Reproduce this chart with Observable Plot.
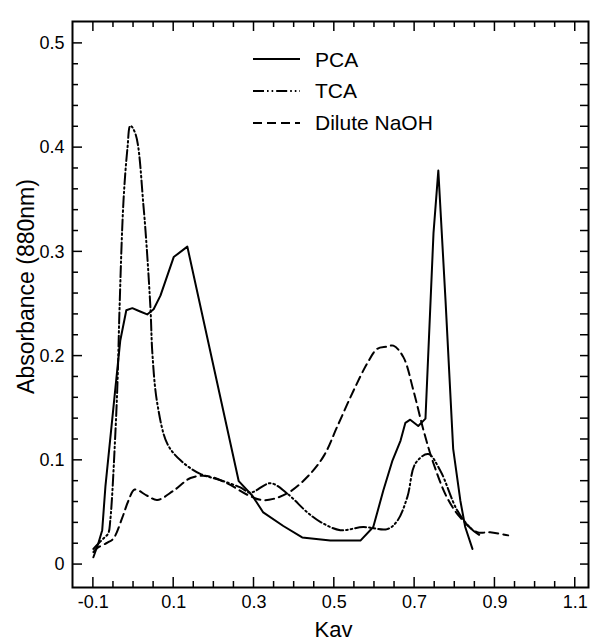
<!DOCTYPE html>
<html><head><meta charset="utf-8">
<script src="https://cdn.jsdelivr.net/npm/d3@7"></script>
<script src="https://cdn.jsdelivr.net/npm/@observablehq/plot@0.6"></script>
<style>html,body{margin:0;padding:0;background:#fff;} svg{display:block}</style>
</head><body><div id="chart"></div>
<script>
// ---- data ----
const seriesNames = ["PCA", "TCA", "Dilute NaOH"];

const pcaKav = [-0.1, -0.088, -0.078, -0.07, -0.045, -0.033, -0.018, -0.003, 0.015, 0.034, 0.05, 0.067, 0.1, 0.134, 0.262, 0.296, 0.323, 0.373, 0.42, 0.49, 0.565, 0.597, 0.622, 0.645, 0.665, 0.677, 0.689, 0.709, 0.727, 0.747, 0.759, 0.777, 0.796, 0.814, 0.826, 0.844];
const pcaAbs = [0.007, 0.02, 0.033, 0.075, 0.17, 0.215, 0.244, 0.246, 0.243, 0.24, 0.245, 0.258, 0.295, 0.305, 0.08, 0.066, 0.05, 0.037, 0.026, 0.023, 0.023, 0.036, 0.071, 0.1, 0.119, 0.136, 0.139, 0.133, 0.14, 0.318, 0.378, 0.253, 0.111, 0.061, 0.036, 0.015];

const tcaKav = [-0.1, -0.088, -0.075, -0.063, -0.058, -0.045, -0.039, -0.035, -0.025, -0.015, -0.008, 0.005, 0.025, 0.042, 0.047, 0.059, 0.084, 0.117, 0.166, 0.216, 0.266, 0.291, 0.341, 0.383, 0.433, 0.465, 0.515, 0.572, 0.632, 0.657, 0.682, 0.702, 0.734, 0.764, 0.806, 0.839, 0.863];
const tcaAbs = [0.015, 0.02, 0.025, 0.03, 0.042, 0.128, 0.186, 0.244, 0.349, 0.4, 0.421, 0.413, 0.343, 0.247, 0.202, 0.155, 0.116, 0.1, 0.087, 0.081, 0.074, 0.069, 0.078, 0.068, 0.05, 0.041, 0.033, 0.036, 0.034, 0.042, 0.065, 0.097, 0.106, 0.09, 0.052, 0.035, 0.028];

const naohKav = [-0.1, -0.09, -0.065, -0.05, -0.028, -0.013, 0.003, 0.034, 0.059, 0.1, 0.142, 0.183, 0.233, 0.283, 0.318, 0.348, 0.39, 0.44, 0.475, 0.508, 0.548, 0.582, 0.607, 0.63, 0.647, 0.672, 0.697, 0.722, 0.747, 0.781, 0.814, 0.856, 0.888, 0.933];
const naohAbs = [0.012, 0.016, 0.021, 0.025, 0.045, 0.061, 0.072, 0.066, 0.062, 0.071, 0.083, 0.085, 0.078, 0.067, 0.062, 0.063, 0.07, 0.087, 0.105, 0.133, 0.167, 0.193, 0.207, 0.209, 0.21, 0.199, 0.167, 0.129, 0.097, 0.064, 0.045, 0.031, 0.031, 0.028];

const xTickValues = [-0.1, 0.1, 0.3, 0.5, 0.7, 0.9, 1.1];
const xTickLabels = ["-0.1", "0.1", "0.3", "0.5", "0.7", "0.9", "1.1"];
const yTickValues = [0, 0.1, 0.2, 0.3, 0.4, 0.5];
const yTickLabels = ["0", "0.1", "0.2", "0.3", "0.4", "0.5"];

const xTitle = "Kav";
const yTitle = "Absorbance (880nm)";

// ---- build table ----
const toRows = (name, xs, ys) => xs.map((k, i) => ({series: name, kav: k, abs: ys[i]}));
const rows = [
  ...toRows(seriesNames[0], pcaKav, pcaAbs),
  ...toRows(seriesNames[1], tcaKav, tcaAbs),
  ...toRows(seriesNames[2], naohKav, naohAbs)
];

// ---- layout ----
const W = 592, H = 641, mL = 72, mR = 4, mT = 21, mB = 54;
const majorLen = 10, minorLen = 6, rightLen = 8;
const font = "'Liberation Sans', Arial, Helvetica, sans-serif";
const dashTCA = "11,3,1.6,3,1.6,3";
const dashNaOH = "9,5";

const xMinor = d3.range(-0.1, 1.1001, 0.05).map(v => +v.toFixed(2))
  .filter(v => !xTickValues.some(t => Math.abs(t - v) < 1e-6));
const yMinor = d3.range(0, 0.5001, 0.02).map(v => +v.toFixed(2))
  .filter(v => !yTickValues.some(t => Math.abs(t - v) < 1e-6));

const plot = Plot.plot({
  width: W, height: H,
  marginLeft: mL, marginRight: mR, marginTop: mT, marginBottom: mB,
  style: {fontFamily: font, fontSize: "18px", color: "black", background: "white"},
  x: {domain: [-0.152, 1.133]},
  y: {domain: [-0.022, 0.521]},
  marks: [
    Plot.axisX(xTickValues, {tickSize: 0, tickPadding: 8, label: null, fontSize: 18,
      tickFormat: d => xTickLabels[xTickValues.indexOf(d)]}),
    Plot.axisY(yTickValues, {tickSize: 0, tickPadding: 8, label: null, fontSize: 18,
      tickFormat: d => yTickLabels[yTickValues.indexOf(d)]}),
    Plot.frame({stroke: "black", strokeWidth: 2}),
    // curves
    Plot.line(rows.filter(d => d.series === "PCA"), {x: "kav", y: "abs", stroke: "black", strokeWidth: 2, curve: "linear"}),
    Plot.line(rows.filter(d => d.series === "TCA"), {x: "kav", y: "abs", stroke: "black", strokeWidth: 2, curve: "catmull-rom", strokeDasharray: dashTCA}),
    Plot.line(rows.filter(d => d.series === "Dilute NaOH"), {x: "kav", y: "abs", stroke: "black", strokeWidth: 2, curve: "catmull-rom", strokeDasharray: dashNaOH}),
    // axis titles
    Plot.text([xTitle], {frameAnchor: "bottom", lineAnchor: "bottom", textAnchor: "middle", dx: 3, dy: 49, fontSize: 22, fill: "black"}),
    Plot.text([yTitle], {frameAnchor: "left", lineAnchor: "bottom", textAnchor: "middle", rotate: -90, dx: -39, dy: -18, fontSize: 23, fill: "black"})
  ]
});

// ---- inward ticks on all four sides, placed with the plot's own scales ----
const svg = d3.select(plot);
const sx = plot.scale("x"), sy = plot.scale("y");
const edgeTop = mT, edgeBottom = H - mB, edgeLeft = mL, edgeRight = W - mR;
const tg = svg.append("g").attr("stroke", "black").attr("stroke-width", 1.5);
const vtick = (v, len) => {
  const px = sx.apply(v);
  tg.append("line").attr("x1", px).attr("x2", px).attr("y1", edgeBottom).attr("y2", edgeBottom - len);
  tg.append("line").attr("x1", px).attr("x2", px).attr("y1", edgeTop).attr("y2", edgeTop + len);
};
const htick = (v, len) => {
  const py = sy.apply(v);
  tg.append("line").attr("y1", py).attr("y2", py).attr("x1", edgeLeft).attr("x2", edgeLeft + len);
  tg.append("line").attr("y1", py).attr("y2", py).attr("x1", edgeRight).attr("x2", edgeRight - rightLen);
};
xTickValues.forEach(v => vtick(v, majorLen));
xMinor.forEach(v => vtick(v, minorLen));
yTickValues.forEach(v => htick(v, majorLen));
yMinor.forEach(v => htick(v, minorLen));

// ---- legend (inside the frame, top) ----
const lg = svg.append("g").attr("font-family", font).attr("font-size", 21)
  .attr("fill", "black").attr("text-anchor", "start");
const legendItems = [
  {name: seriesNames[0], dash: null, ly: 59, ty: 67},
  {name: seriesNames[1], dash: dashTCA, ly: 91, ty: 98},
  {name: seriesNames[2], dash: dashNaOH, ly: 123, ty: 130}
];
legendItems.forEach(it => {
  lg.append("line").attr("x1", 253).attr("x2", 300).attr("y1", it.ly).attr("y2", it.ly)
    .attr("stroke", "black").attr("stroke-width", 2)
    .attr("stroke-dasharray", it.dash);
  lg.append("text").attr("x", 315).attr("y", it.ty).attr("text-anchor", "start").text(it.name);
});

document.getElementById("chart").appendChild(plot);
</script>
</body></html>
